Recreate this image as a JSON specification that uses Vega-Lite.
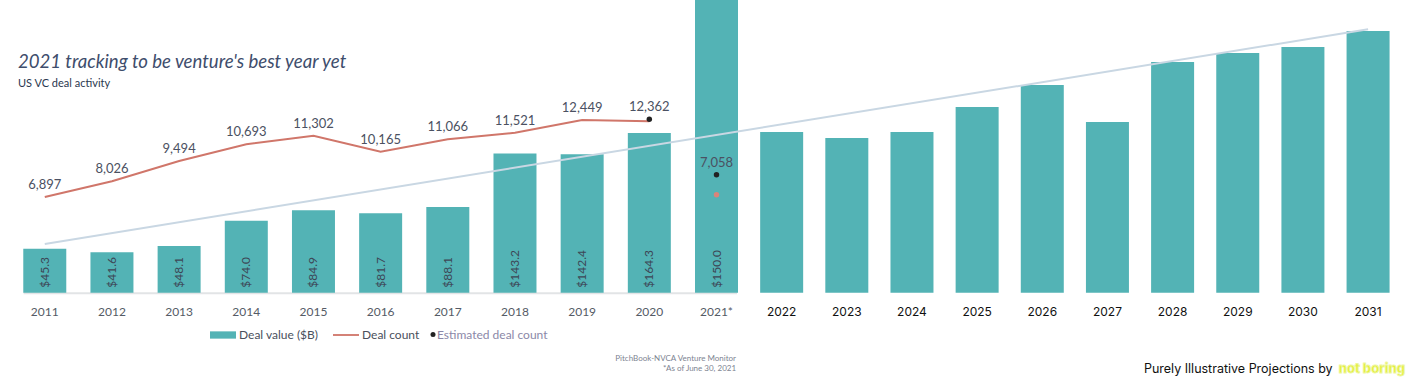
{
  "$schema": "https://vega.github.io/schema/vega-lite/v6.json",
  "width": 1408,
  "height": 385,
  "padding": 0,
  "autosize": {"type": "fit", "contains": "padding"},
  "config": {"view": {"stroke": null}},
  "title": {
    "text": "2021 tracking to be venture's best year yet",
    "subtitle": "US VC deal activity",
    "anchor": "start",
    "frame": "group",
    "orient": "top",
    "offset": -89,
    "dx": 18,
    "font": "Lato",
    "fontSize": 18.6,
    "fontStyle": "italic",
    "fontWeight": "normal",
    "color": "#3e4d6c",
    "subtitleFont": "Lato",
    "subtitleFontSize": 11,
    "subtitleColor": "#2b3850",
    "subtitlePadding": 6
  },
  "datasets": {
    "years": [
      {"year": 2011, "year_label": "2011", "source": "PitchBook", "bar_value": 45.3, "deal_value": 45.3, "deal_count": 6897, "shown_count": 6897},
      {"year": 2012, "year_label": "2012", "source": "PitchBook", "bar_value": 41.6, "deal_value": 41.6, "deal_count": 8026, "shown_count": 8026},
      {"year": 2013, "year_label": "2013", "source": "PitchBook", "bar_value": 48.1, "deal_value": 48.1, "deal_count": 9494, "shown_count": 9494},
      {"year": 2014, "year_label": "2014", "source": "PitchBook", "bar_value": 74.0, "deal_value": 74.0, "deal_count": 10693, "shown_count": 10693},
      {"year": 2015, "year_label": "2015", "source": "PitchBook", "bar_value": 84.9, "deal_value": 84.9, "deal_count": 11302, "shown_count": 11302},
      {"year": 2016, "year_label": "2016", "source": "PitchBook", "bar_value": 81.7, "deal_value": 81.7, "deal_count": 10165, "shown_count": 10165},
      {"year": 2017, "year_label": "2017", "source": "PitchBook", "bar_value": 88.1, "deal_value": 88.1, "deal_count": 11066, "shown_count": 11066},
      {"year": 2018, "year_label": "2018", "source": "PitchBook", "bar_value": 143.2, "deal_value": 143.2, "deal_count": 11521, "shown_count": 11521},
      {"year": 2019, "year_label": "2019", "source": "PitchBook", "bar_value": 142.4, "deal_value": 142.4, "deal_count": 12449, "shown_count": 12449},
      {"year": 2020, "year_label": "2020", "source": "PitchBook", "bar_value": 164.3, "deal_value": 164.3, "deal_count": 12362, "est_count": 12500, "shown_count": 12362},
      {"year": 2021, "year_label": "2021*", "source": "PitchBook", "bar_value": 301, "deal_value": 150.0, "ytd_count": 7058, "est_count": 8500, "shown_count": 7058},
      {"year": 2022, "year_label": "2022", "source": "not boring", "bar_value": 165.3},
      {"year": 2023, "year_label": "2023", "source": "not boring", "bar_value": 159.2},
      {"year": 2024, "year_label": "2024", "source": "not boring", "bar_value": 165.3},
      {"year": 2025, "year_label": "2025", "source": "not boring", "bar_value": 191.0},
      {"year": 2026, "year_label": "2026", "source": "not boring", "bar_value": 213.7},
      {"year": 2027, "year_label": "2027", "source": "not boring", "bar_value": 175.6},
      {"year": 2028, "year_label": "2028", "source": "not boring", "bar_value": 237.3},
      {"year": 2029, "year_label": "2029", "source": "not boring", "bar_value": 246.6},
      {"year": 2030, "year_label": "2030", "source": "not boring", "bar_value": 252.8},
      {"year": 2031, "year_label": "2031", "source": "not boring", "bar_value": 269.2}
    ],
    "trend": [
      {"year": 2011, "trend": 50.1},
      {"year": 2031, "trend": 271.0}
    ]
  },
  "data": {"name": "years"},
  "resolve": {"scale": {"y": "independent"}},
  "layer": [
    {
      "data": {"values": [{"k": "baseline"}]},
      "mark": {"type": "rule", "color": "#e2e4e6", "strokeWidth": 2},
      "encoding": {
        "x": {"datum": 2010.685, "type": "quantitative", "scale": {"domain": [2011, 2021, 2031], "range": [39.7, 716.5, 1373], "nice": false, "zero": false}, "axis": null},
        "x2": {"datum": 2021.315},
        "y": {"datum": -0.6, "type": "quantitative", "scale": {"domain": [0, 301.1], "range": [292.7, 0], "nice": false, "zero": false}, "axis": null}
      }
    },
    {
      "mark": {"type": "bar", "width": 43, "color": "#53b3b5"},
      "encoding": {
        "x": {"field": "year", "type": "quantitative", "scale": {"domain": [2011, 2021, 2031], "range": [39.7, 716.5, 1373], "nice": false, "zero": false}, "axis": null},
        "y": {"field": "bar_value", "type": "quantitative", "scale": {"domain": [0, 301.1], "range": [292.7, 0], "nice": false, "zero": false}, "axis": null},
        "color": {
          "datum": "Deal value ($B)",
          "type": "nominal",
          "scale": {"domain": ["Deal value ($B)", "Deal count"], "range": ["#53b3b5", "#d0766a"]},
          "legend": {
            "orient": "none",
            "legendX": 210,
            "legendY": 322,
            "direction": "horizontal",
            "title": null,
            "symbolSize": 676,
            "symbolStrokeWidth": 0,
            "labelFont": "Lato",
            "labelFontSize": 12,
            "labelColor": "#4a505c",
            "labelOffset": 3,
            "columnPadding": 14,
            "padding": 0,
            "encode": {
              "symbols": {"update": {"shape": {"signal": "datum.value === 'Deal count' ? 'M-1,-0.07H1V0.07H-1Z' : 'M-1,-0.28H1V0.28H-1Z'"}}}
            }
          }
        }
      }
    },
    {
      "transform": [{"filter": "isValid(datum.deal_value)"}],
      "mark": {"type": "text", "angle": 270, "align": "left", "baseline": "middle", "dx": 5, "font": "Lato", "fontSize": 12, "color": "#3d4656"},
      "encoding": {
        "x": {"field": "year", "type": "quantitative"},
        "y": {"datum": 0, "type": "quantitative", "scale": {"domain": [0, 301.1], "range": [292.7, 0], "nice": false, "zero": false}, "axis": null},
        "text": {"field": "deal_value", "type": "quantitative", "format": "$.1f"}
      }
    },
    {
      "transform": [{"filter": "datum.source === 'PitchBook'"}],
      "mark": {"type": "text", "baseline": "middle", "dy": 19, "font": "Lato", "fontSize": 12, "color": "#555b66"},
      "encoding": {
        "x": {"field": "year", "type": "quantitative"},
        "y": {"datum": 0, "type": "quantitative", "scale": {"domain": [0, 301.1], "range": [292.7, 0], "nice": false, "zero": false}, "axis": null},
        "text": {"field": "year_label", "type": "nominal"}
      }
    },
    {
      "transform": [{"filter": "datum.source === 'not boring'"}],
      "mark": {"type": "text", "baseline": "middle", "dy": 19, "font": "Inter", "fontSize": 12, "fontWeight": 400, "color": "#111111"},
      "encoding": {
        "x": {"field": "year", "type": "quantitative"},
        "y": {"datum": 0, "type": "quantitative", "scale": {"domain": [0, 301.1], "range": [292.7, 0], "nice": false, "zero": false}, "axis": null},
        "text": {"field": "year_label", "type": "nominal"}
      }
    },
    {
      "data": {"name": "trend"},
      "mark": {"type": "line", "color": "#c9d7e3", "strokeWidth": 2},
      "encoding": {
        "x": {"field": "year", "type": "quantitative"},
        "y": {"field": "trend", "type": "quantitative", "scale": {"domain": [0, 301.1], "range": [292.7, 0], "nice": false, "zero": false}, "axis": null}
      }
    },
    {
      "transform": [{"filter": "isValid(datum.deal_count)"}],
      "mark": {"type": "line", "color": "#d0766a", "strokeWidth": 2},
      "encoding": {
        "x": {"field": "year", "type": "quantitative"},
        "y": {"field": "deal_count", "type": "quantitative", "scale": {"domain": [0, 21094], "range": [292.7, 0], "nice": false, "zero": false}, "axis": null}
      }
    },
    {
      "transform": [{"filter": "isValid(datum.ytd_count)"}],
      "mark": {"type": "point", "filled": true, "color": "#d9847a", "size": 30, "opacity": 1},
      "encoding": {
        "x": {"field": "year", "type": "quantitative"},
        "y": {"field": "ytd_count", "type": "quantitative", "scale": {"domain": [0, 21094], "range": [292.7, 0], "nice": false, "zero": false}, "axis": null}
      }
    },
    {
      "transform": [{"filter": "isValid(datum.est_count)"}],
      "mark": {"type": "point", "filled": true, "color": "#222222", "size": 30, "opacity": 1},
      "encoding": {
        "x": {"field": "year", "type": "quantitative"},
        "y": {"field": "est_count", "type": "quantitative", "scale": {"domain": [0, 21094], "range": [292.7, 0], "nice": false, "zero": false}, "axis": null},
        "shape": {
          "datum": "Estimated deal count",
          "type": "nominal",
          "scale": {"domain": ["Estimated deal count"], "range": ["circle"]},
          "legend": {
            "orient": "none",
            "legendX": 427,
            "legendY": 328.5,
            "title": null,
            "symbolSize": 25,
            "symbolFillColor": "#222222",
            "symbolStrokeWidth": 0,
            "labelFont": "Lato",
            "labelFontSize": 12,
            "labelColor": "#8b88a8",
            "labelOffset": -2,
            "padding": 0,
            "encode": {"symbols": {"update": {"fill": {"value": "#222222"}, "opacity": {"value": 1}}}}
          }
        }
      }
    },
    {
      "transform": [{"filter": "isValid(datum.deal_count) && !isValid(datum.est_count)"}],
      "mark": {"type": "text", "baseline": "middle", "dy": -12, "font": "Lato", "fontSize": 13, "color": "#4b5162"},
      "encoding": {
        "x": {"field": "year", "type": "quantitative"},
        "y": {"field": "deal_count", "type": "quantitative", "scale": {"domain": [0, 21094], "range": [292.7, 0], "nice": false, "zero": false}, "axis": null},
        "text": {"field": "shown_count", "type": "quantitative", "format": ","}
      }
    },
    {
      "transform": [{"filter": "isValid(datum.est_count)"}],
      "mark": {"type": "text", "baseline": "middle", "dy": -12, "font": "Lato", "fontSize": 13, "color": "#4b5162"},
      "encoding": {
        "x": {"field": "year", "type": "quantitative"},
        "y": {"field": "est_count", "type": "quantitative", "scale": {"domain": [0, 21094], "range": [292.7, 0], "nice": false, "zero": false}, "axis": null},
        "text": {"field": "shown_count", "type": "quantitative", "format": ","}
      }
    },
    {
      "data": {"values": [{"note": "PitchBook-NVCA Venture Monitor"}]},
      "mark": {"type": "text", "align": "right", "baseline": "middle", "font": "Lato", "fontSize": 8, "color": "#7d8391"},
      "encoding": {
        "x": {"datum": 2021.30, "type": "quantitative"},
        "y": {"datum": -68.2, "type": "quantitative", "scale": {"domain": [0, 301.1], "range": [292.7, 0], "nice": false, "zero": false}, "axis": null},
        "text": {"field": "note", "type": "nominal"}
      }
    },
    {
      "data": {"values": [{"note": "*As of June 30, 2021"}]},
      "mark": {"type": "text", "align": "right", "baseline": "middle", "font": "Lato", "fontSize": 8, "color": "#7d8391"},
      "encoding": {
        "x": {"datum": 2021.30, "type": "quantitative"},
        "y": {"datum": -78.5, "type": "quantitative", "scale": {"domain": [0, 301.1], "range": [292.7, 0], "nice": false, "zero": false}, "axis": null},
        "text": {"field": "note", "type": "nominal"}
      }
    },
    {
      "data": {"values": [{"note": "Purely Illustrative Projections by"}]},
      "mark": {"type": "text", "align": "left", "baseline": "middle", "font": "Inter", "fontSize": 12.5, "color": "#111111"},
      "encoding": {
        "x": {"datum": 2027.56, "type": "quantitative"},
        "y": {"datum": -78.8, "type": "quantitative", "scale": {"domain": [0, 301.1], "range": [292.7, 0], "nice": false, "zero": false}, "axis": null},
        "text": {"field": "note", "type": "nominal"}
      }
    },
    {
      "data": {"values": [{"note": "not boring"}]},
      "mark": {"type": "text", "align": "left", "baseline": "middle", "font": "Inter", "fontSize": 13, "fontWeight": 800, "color": "#e3ef3a", "stroke": "#eef6a0", "strokeWidth": 0.8},
      "encoding": {
        "x": {"datum": 2030.55, "type": "quantitative"},
        "y": {"datum": -78.8, "type": "quantitative", "scale": {"domain": [0, 301.1], "range": [292.7, 0], "nice": false, "zero": false}, "axis": null},
        "text": {"field": "note", "type": "nominal"}
      }
    }
  ]
}
